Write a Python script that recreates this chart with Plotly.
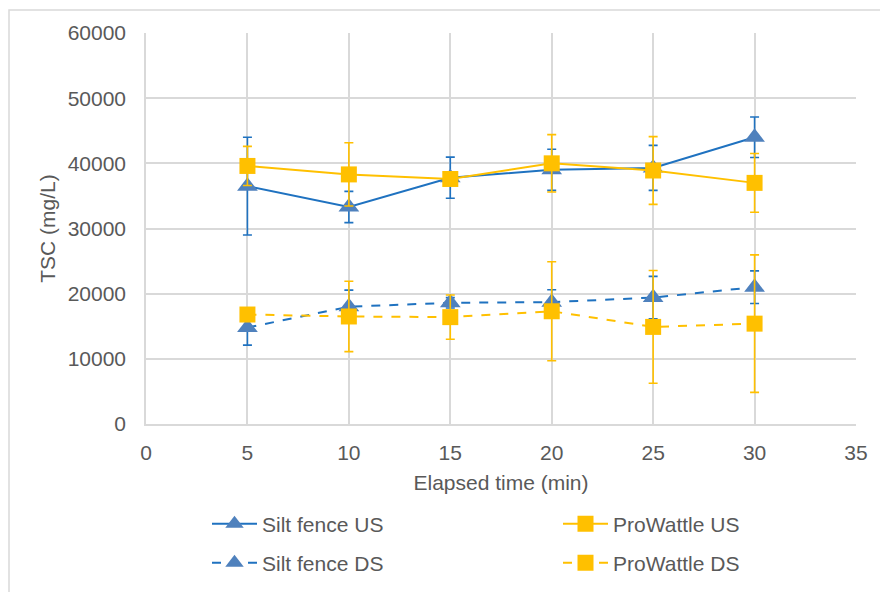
import plotly.graph_objects as go

time_min = [5, 10, 15, 20, 25, 30]

silt_us = [36500, 33300, 37800, 39000, 39300, 44000]
silt_us_err = [7500, 2400, 3150, 3150, 3450, 3100]

prowattle_us = [39600, 38300, 37600, 40000, 38900, 37000]
prowattle_us_err = [3000, 4850, 500, 4400, 5200, 4500]

silt_ds = [14800, 18000, 18600, 18700, 19400, 21000]
silt_ds_err = [2700, 2550, 800, 1900, 3250, 2500]

prowattle_ds = [16800, 16500, 16400, 17300, 14900, 15400]
prowattle_ds_err = [300, 5400, 3400, 7600, 8650, 10550]

BLUE_LINE = "#1f72c0"
BLUE_MARK = "#4f81bd"
YELLOW = "#ffc000"
FONT = "Liberation Sans, Arial, sans-serif"
TXT = "#595959"

fig = go.Figure()

def add(name, y, err, line_color, mark_color, symbol, size, dash, legend):
    fig.add_trace(go.Scatter(
        x=time_min, y=y, name=name, mode="lines+markers", legend=legend,
        line=dict(color=line_color, width=2, dash=dash),
        marker=dict(symbol=symbol, size=size, color=mark_color),
        error_y=dict(type="data", array=err, visible=True,
                     color=line_color, thickness=1.6, width=4.5),
    ))

add("Silt fence US", silt_us, silt_us_err, BLUE_LINE, BLUE_MARK, "triangle-up", 18, "solid", "legend")
add("ProWattle US", prowattle_us, prowattle_us_err, YELLOW, YELLOW, "square", 16, "solid", "legend2")
add("Silt fence DS", silt_ds, silt_ds_err, BLUE_LINE, BLUE_MARK, "triangle-up", 18, "dash", "legend3")
add("ProWattle DS", prowattle_ds, prowattle_ds_err, YELLOW, YELLOW, "square", 16, "dash", "legend4")

leg_common = dict(orientation="h", xanchor="left", yanchor="middle",
                  font=dict(family=FONT, size=21, color=TXT),
                  itemwidth=45, bgcolor="rgba(0,0,0,0)")

PW = 710.0
PH = 391.0
col1 = (207 - 146) / PW
col2 = (558 - 146) / PW
row1 = (424 - 524) / PH
row2 = (424 - 563) / PH

fig.update_layout(
    width=880, height=592,
    margin=dict(l=146, r=24, t=33, b=168, autoexpand=False),
    paper_bgcolor="white", plot_bgcolor="white",
    font=dict(family=FONT, size=21, color=TXT),
    showlegend=True,
    legend=dict(x=col1, y=row1, **leg_common),
    legend2=dict(x=col2, y=row1, **leg_common),
    legend3=dict(x=col1, y=row2, **leg_common),
    legend4=dict(x=col2, y=row2, **leg_common),
    xaxis=dict(range=[0, 35], dtick=5, tick0=0, showgrid=True,
               gridcolor="#d9d9d9", gridwidth=1.5, zeroline=False,
               showline=True, linecolor="#d9d9d9", linewidth=1.5,
               ticklabelstandoff=9,
               title=dict(text="Elapsed time (min)", standoff=12,
                          font=dict(size=21, color=TXT))),
    yaxis=dict(range=[0, 60000], dtick=10000, tick0=0, showgrid=True,
               tickformat="d",
               gridcolor="#d9d9d9", gridwidth=1.5, zeroline=False,
               showline=True, linecolor="#d9d9d9", linewidth=1.5,
               ticklabelstandoff=14,
               title=dict(text="TSC (mg/L)", standoff=6,
                          font=dict(size=21, color=TXT))),
    shapes=[dict(type="rect", xref="paper", yref="paper",
                 x0=(9 - 146) / PW, x1=(900 - 146) / PW,
                 y0=(424 - 620) / PH, y1=(424 - 10) / PH,
                 line=dict(color="#d9d9d9", width=1.5), layer="below")],
)

fig.write_html("out.html")
